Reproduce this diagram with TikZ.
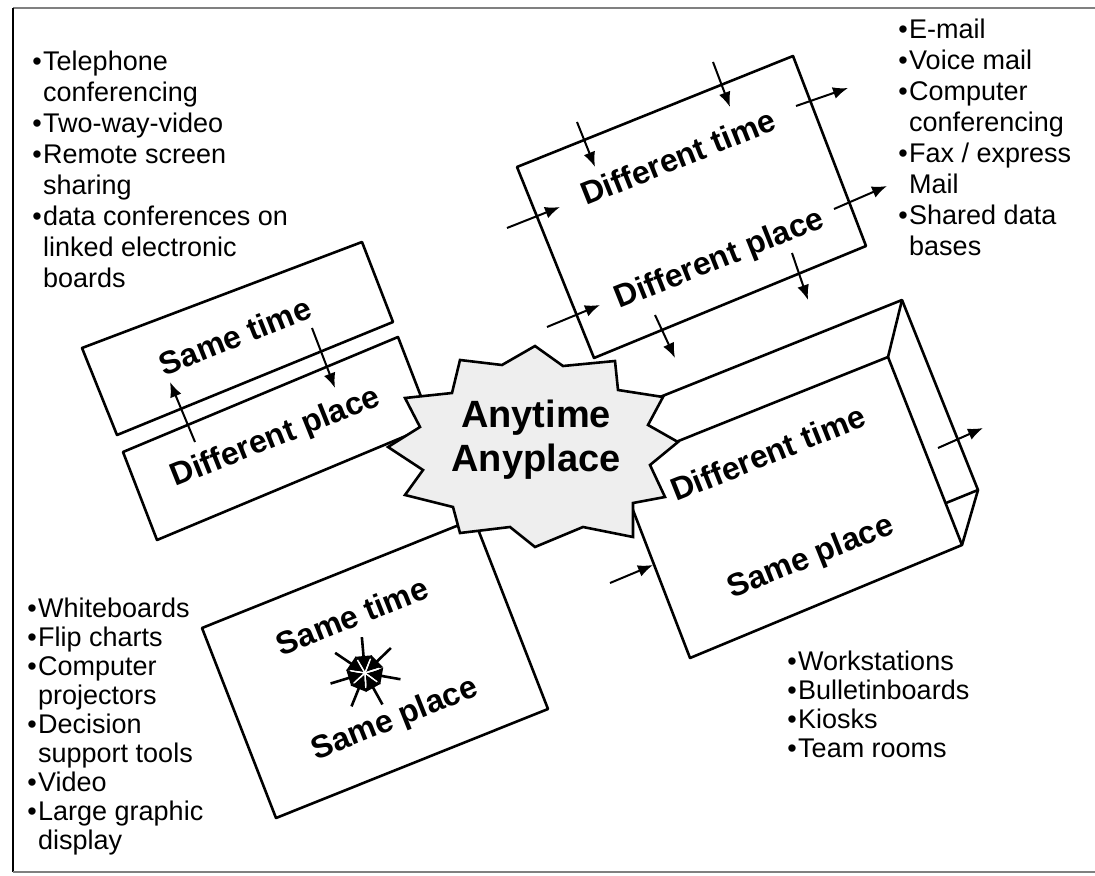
\documentclass[tikz,border=0pt]{standalone}
\usepackage{fontspec}
\setmainfont{Liberation Sans}
\usetikzlibrary{arrows.meta,positioning}

\newcommand{\itm}[1]{\makebox[0.4em][l]{\textbullet}#1}
\newcommand{\cnt}[1]{\hspace*{0.4em}#1}

\begin{document}
\begin{tikzpicture}[x=0.5pt,y=-0.5pt,
    panel/.style={draw, line width=1.3pt, fill=white, line join=round},
    lbl/.style={font=\fontsize{16}{18}\selectfont\bfseries, rotate=21.8, inner sep=0pt},
    arr/.style={line width=1pt, -{Latex[length=7.5pt,width=6pt]}},
    list/.style={anchor=north west, inner sep=0pt, align=left, font=\fontsize{13.5}{15.5}\selectfont},
    tight/.style={font=\fontsize{13.5}{14.5}\selectfont}]
    \useasboundingbox (0,0) rectangle (1095,876);
    % frame
    \draw[gray, line width=0.6pt] (13,8) -- (1095,8);
    \draw[line width=1.2pt] (13,8) -- (13,872);
    \draw[gray, line width=0.6pt] (13,872) -- (1095,872);

    % lists
    \node[list] (remote) at (32,51) {\itm{Telephone}\\\cnt{conferencing}\\\itm{Two-way-video}\\\itm{Remote screen}\\\cnt{sharing}\\\itm{data conferences on}\\\cnt{linked electronic}\\\cnt{boards}};
    \node[list] (async) at (898,19) {\itm{E-mail}\\\itm{Voice mail}\\\itm{Computer}\\\cnt{conferencing}\\\itm{Fax / express}\\\cnt{Mail}\\\itm{Shared data}\\\cnt{bases}};
    \node[list, tight] (meeting) at (27,598) {\itm{Whiteboards}\\\itm{Flip charts}\\\itm{Computer}\\\cnt{projectors}\\\itm{Decision}\\\cnt{support tools}\\\itm{Video}\\\itm{Large graphic}\\\cnt{display}};
    \node[list, tight] (shift) at (787,651) {\itm{Workstations}\\\itm{Bulletinboards}\\\itm{Kiosks}\\\itm{Team rooms}};

    % same time / different place
    \draw[panel] (82,348) -- (362,242) -- (393,322) -- (117,435) -- cycle;
    \draw[panel] (123,452) -- (398,337) -- (432,425) -- (157,540) -- cycle;
    \node[lbl] (sttop) at (235,336) {Same time};
    \node[lbl] (dpleft) at (276,438) {Different place};
    \draw[arr] (195,442) -- (170,382);
    \draw[arr] (312,328) -- (335,388);

    % different time / different place
    \draw[panel] (517,167) -- (793,56) -- (866,246) -- (594,358) -- cycle;
    \node[lbl] (dttop) at (678,157) {Different time};
    \node[lbl] (dptop) at (720,260) {Different place};
    \draw[arr] (577,122) -- (595,167);
    \draw[arr] (713,62) -- (730,107);
    \draw[arr] (507,228) -- (560,207);
    \draw[arr] (547,327) -- (600,305);
    \draw[arr] (655,315) -- (675,358);
    \draw[arr] (792,253) -- (808,300);
    \draw[arr] (796,106) -- (848,88);
    \draw[arr] (834,209) -- (887,186);

    % different time / same place (box)
    \draw[panel] (630,409) -- (902,300) -- (978,490) -- (962,545) -- (690,658) -- (616,466) -- cycle;
    \draw[line width=1.3pt, line join=round] (616,466) -- (888,357) -- (962,545);
    \draw[line width=1.3pt] (888,357) -- (902,300);
    \draw[line width=1.3pt] (946,503) -- (978,490);
    \node[lbl] (dtright) at (768,453) {Different time};
    \node[lbl] (spright) at (811,558) {Same place};
    \draw[arr] (610,583) -- (653,565);
    \draw[arr] (938,448) -- (983,428);

    % same time / same place
    \draw[panel] (202,628) -- (474,519) -- (548,709) -- (276,818) -- cycle;
    \node[lbl] (stbottom) at (352,616) {Same time};
    \node[lbl] (spbottom) at (395,720) {Same place};
    \begin{scope}[shift={(365,673)}]
        \foreach \a in {10,61,...,320}
            \draw[line width=1.3pt, -{Latex[length=8pt,width=9pt]}] (\a:36) -- (\a:1);
        \foreach \a in {36,87,...,350}
            \draw[white, line width=0.7pt] (0,0) -- (\a:15);
    \end{scope}

    % anytime anyplace
    \draw[line width=1.3pt, fill=gray!13, line join=miter] (535,346) -- (563,366) -- (615,361) -- (618,390) -- (663,397) -- (648,425) -- (678,442) -- (650,465) -- (665,497) -- (633,503) -- (633,537) -- (583,527) -- (535,547) -- (510,527) -- (460,533) -- (453,507) -- (405,495) -- (423,470) -- (388,447) -- (420,427) -- (405,398) -- (452,393) -- (460,360) -- (502,365) -- cycle;
    \node[font=\fontsize{19}{22}\selectfont\bfseries, align=center] (anywhere) at (536,440) {Anytime\\Anyplace};
\end{tikzpicture}
\end{document}
